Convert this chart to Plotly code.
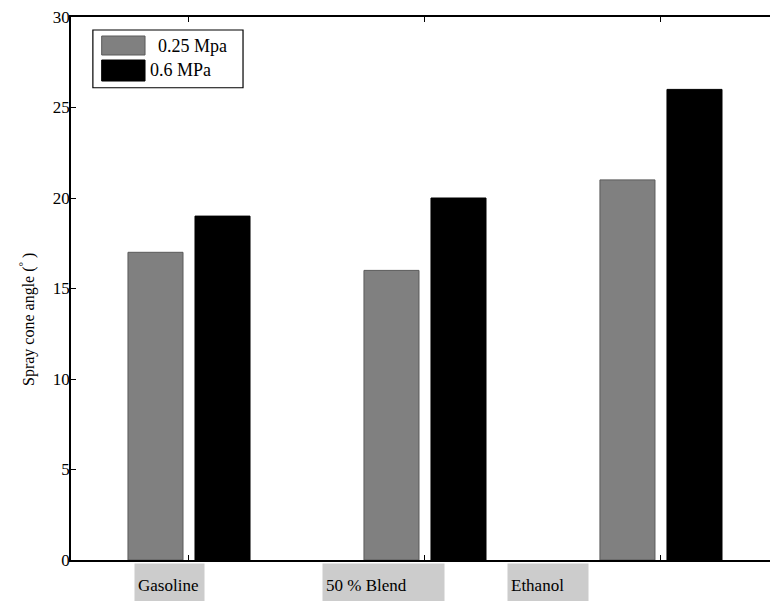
import plotly.graph_objects as go

categories = ["Gasoline", "50 % Blend", "Ethanol"]
low_pressure = [17, 16, 21]
high_pressure = [19, 20, 26]
series_names = ["0.25 Mpa", "0.6 MPa"]
y_ticks = [0, 5, 10, 15, 20, 25, 30]

FONT = "Liberation Serif"
xs = list(range(len(categories)))

fig = go.Figure()
fig.add_trace(go.Bar(x=xs, y=low_pressure, name=series_names[0],
                     marker=dict(color="#808080", line=dict(color="#5a5a5a", width=1)),
                     showlegend=False))
fig.add_trace(go.Bar(x=xs, y=high_pressure, name=series_names[1],
                     marker=dict(color="#000000", line=dict(color="#000000", width=1)),
                     showlegend=False))

fig.update_layout(
    width=770, height=601,
    margin=dict(l=71, r=0, t=17, b=41),
    paper_bgcolor="white", plot_bgcolor="white",
    barmode="group", bargap=0.432, bargroupgap=0.179,
    font=dict(family=FONT, size=16, color="black"),
)
fig.update_xaxes(
    range=[-0.5, 2.462], tickvals=xs, showticklabels=False,
    showline=True, linecolor="black", linewidth=1.5, mirror="ticks",
    ticks="inside", ticklen=5, tickcolor="black", showgrid=False, zeroline=False,
)
fig.update_yaxes(
    range=[0, 30], tickvals=y_ticks, ticks="inside", ticklen=5, tickcolor="black",
    showline=True, linecolor="black", linewidth=1.5, showgrid=False, zeroline=False,
    tickfont=dict(family=FONT, size=17), ticklabelstandoff=-4,
)

# y-axis title
fig.add_annotation(x=-0.0615, y=0.442, xref="paper", yref="paper", xanchor="center", yanchor="middle",
                   text="Spray cone angle (<sup>°</sup> )", textangle=-90, showarrow=False,
                   font=dict(family=FONT, size=16))

# category labels in grey boxes (offsets of the box left edge from each category centre)
label_offsets = [-0.233, -0.436, -0.653]
label_widths = [69, 121, 80]
for i, (cat, off, w) in enumerate(zip(categories, label_offsets, label_widths)):
    fig.add_annotation(x=xs[i] + off, y=0, xref="x", yref="y", xanchor="left", yanchor="top",
                       yshift=-3, text=cat, showarrow=False, align="left",
                       width=w - 6, height=36, bgcolor="#cccccc", borderpad=3,
                       font=dict(family=FONT, size=17, color="black"))

# legend drawn manually
fig.add_shape(type="rect", xref="paper", yref="paper", x0=0.0313, x1=0.2461, y0=0.8697, y1=0.9761,
              line=dict(color="black", width=1.2), fillcolor="white")
fig.add_shape(type="rect", xref="paper", yref="paper", x0=0.0439, x1=0.1059, y0=0.9300, y1=0.9650,
              line=dict(color="#5a5a5a", width=1), fillcolor="#808080")
fig.add_shape(type="rect", xref="paper", yref="paper", x0=0.0439, x1=0.1059, y0=0.8821, y1=0.9208,
              line=dict(color="black", width=1), fillcolor="black")
fig.add_annotation(x=0.1216, y=0.9475, xref="paper", yref="paper", xanchor="left", yanchor="middle",
                   text=series_names[0], showarrow=False, font=dict(family=FONT, size=18))
fig.add_annotation(x=0.1102, y=0.9015, xref="paper", yref="paper", xanchor="left", yanchor="middle",
                   text=series_names[1], showarrow=False, font=dict(family=FONT, size=18))

fig.write_html("out.html")
